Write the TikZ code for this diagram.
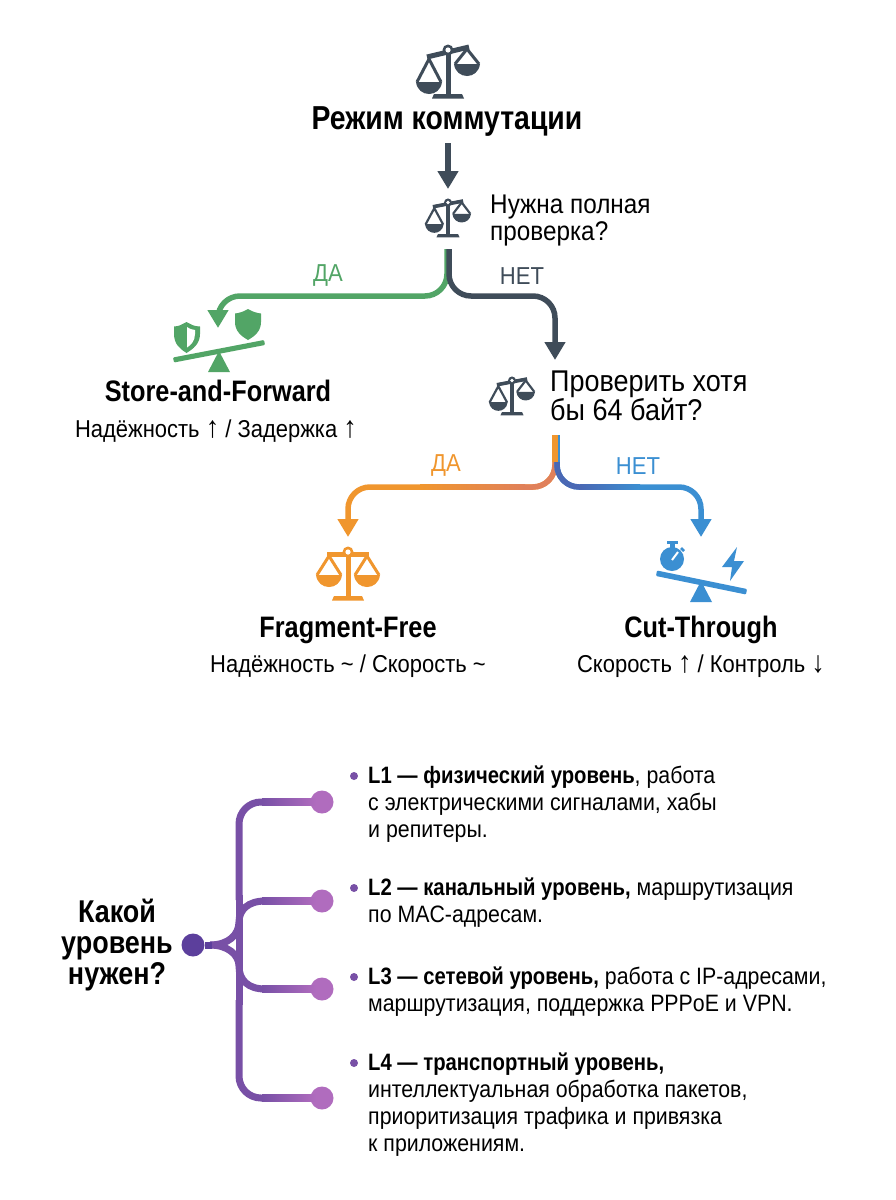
\documentclass[tikz,border=0pt]{standalone}
\usepackage{fontspec}
\setmainfont[FakeStretch=0.9,BoldFeatures={FakeStretch=0.855}]{Liberation Sans}
\usetikzlibrary{arrows.meta,calc}
\definecolor{ink}{HTML}{3F4C59}
\definecolor{grn}{HTML}{52A566}
\definecolor{org}{HTML}{F0962E}
\definecolor{orgred}{HTML}{E0805A}
\definecolor{blu}{HTML}{3B8FD2}
\definecolor{bludk}{HTML}{4A68B4}
\definecolor{pur}{HTML}{7850A6}
\definecolor{purlt}{HTML}{B06CBE}
\definecolor{purdk}{HTML}{5C3F9C}
\newcommand{\fsz}[2]{\fontsize{#1}{#2}\selectfont}
\newcommand{\bigup}{{\fsz{30}{27}↑}}
\newcommand{\bigdn}{{\fsz{30}{27}↓}}
\tikzset{
  x=1pt,y=-1pt,
  conn/.style={line width=5.5pt,rounded corners=22pt,-{Triangle[width=20pt,length=18pt]}},
  curveline/.style={line width=5.5pt,rounded corners=22pt},
  tree/.style={line width=7pt,draw=pur},
  enddot/.style={circle,fill=purlt,minimum size=23pt,inner sep=0pt},
  bul/.style={circle,fill=pur,minimum size=8pt,inner sep=0pt},
  title/.style={font=\fsz{33.2}{36}\bfseries,text=black},
  mode/.style={font=\fsz{29.6}{34}\bfseries,text=black},
  sub/.style={font=\fsz{24.4}{27},text=black},
  ask/.style={anchor=west,align=left,text=black},
  branch/.style={font=\fsz{24.5}{29}},
  item/.style={anchor=north west,align=left,text=black,font=\fsz{23.7}{27},inner sep=0pt},
  pics/balance/.style n args={3}{code={
    \begin{scope}[scale=#3,line width={#3*3pt},draw=#1,fill=#1]
      \draw[line width={#3*5pt}] (-21,{-21+#2}) -- (21,{-21-#2});
      \draw[line width={#3*5pt}] (0,-22) -- (0,22);
      \fill (-16,25.5) -- (-14,21) -- (14,21) -- (16,25.5) -- cycle;
      \draw[line join=round] (-31,{0+1.8*#2}) -- (-19,{-19+#2}) -- (-7,{0+1.8*#2});
      \draw[line join=round] (7,{0-1.8*#2}) -- (19,{-19-#2}) -- (31,{0-1.8*#2});
      \fill (-32,{1.8*#2}) .. controls (-30,{1.8*#2+16}) and (-8,{1.8*#2+16}) .. (-6,{1.8*#2}) -- cycle;
      \fill (6,{-1.8*#2}) .. controls (8,{-1.8*#2+16}) and (30,{-1.8*#2+16}) .. (32,{-1.8*#2}) -- cycle;
      \fill (0,-23) circle[radius=5.5];
      \fill[white] (0,-23) circle[radius=2.6];
    \end{scope}
  }}
}
\begin{document}
\begin{tikzpicture}
\useasboundingbox (0,0) rectangle (896,1200);
\fill[white] (0,0) rectangle (896,1200);

% top part
\pic (bigscale) at (448,73) {balance={ink}{5}{1}};
\node[title] (ttl) at (447,122) {Режим коммутации};
\pic (scale1) at (448,219) {balance={ink}{4}{0.72}};
\node[ask,font=\fsz{27}{27}] (q1) at (486.7,221) {Нужна полная\\проверка?};
\coordinate (a0) at (448,143);
\coordinate (a1) at (448,189);
\draw[conn,draw=ink] (a0) -- (a1);

% first split
\coordinate (s1) at (447,249);
\coordinate (c1l) at (447,296);
\coordinate (t1l) at (218,328);
\coordinate (c1lb) at (218,296);
\coordinate (s1r) at (449,249);
\coordinate (c1r) at (449,296);
\coordinate (c1rb) at (555,296);
\coordinate (t1r) at (555,360);
\draw[conn,draw=grn] (s1) -- (c1l) -- (c1lb) -- (t1l);
\draw[conn,draw=ink] (s1r) -- (c1r) -- (c1rb) -- (t1r);
\node[branch,text=grn] (yes1) at (328,276) {ДА};
\node[branch,text=ink] (no1) at (522,276) {НЕТ};

% store-and-forward icon
\fill[grn,rounded corners=1pt] (173,357.5) -- (264,340) -- (265,345) -- (174,362.5) -- cycle;
\fill[grn] (219,351) -- (230,372) -- (208,372) -- cycle;
\fill[grn] (186.5,322) .. controls (179,326) .. (174,326.5) -- (174,334) .. controls (174,344) and (180,349) .. (186.5,353) .. controls (193,349) and (200,344) .. (200,334) -- (200,326.5) .. controls (194,326) .. cycle;
\fill[white] (187,327) .. controls (190,329) .. (195,330) -- (195,334) .. controls (195,341) and (191,345) .. (187,347.5) -- cycle;
\fill[grn] (248,309) .. controls (243,312) and (239,313) .. (235,313.5) -- (235,322) .. controls (235,331) and (241,336) .. (248,340) .. controls (255,336) and (261,331) .. (261,322) -- (261,313.5) .. controls (257,313) and (253,312) .. cycle;
\node[mode] (sf) at (218,391) {Store-and-Forward};
\node[sub] (sfs) at (216,431) {Надёжность \bigup{} / Задержка \bigup};

% second question
\pic (scale2) at (512,397) {balance={ink}{4}{0.72}};
\node[ask,font=\fsz{30}{26}] (q2) at (546.7,396) {Проверить хотя\\бы 64 байт?};

% second split
\coordinate (s2) at (555,435);
\coordinate (c2l) at (555,487);
\coordinate (c2lb) at (348,487);
\coordinate (t2l) at (348,537);
\coordinate (s2r) at (557,435);
\coordinate (c2r) at (557,487);
\coordinate (c2rb) at (701,487);
\coordinate (t2r) at (701,537);
\draw[conn,draw=org] (s2) -- (c2l) -- (c2lb) -- (t2l);
\shade[left color=org,right color=orgred] (420,484.25) rectangle (525,489.75);
\draw[curveline,draw=orgred] (555,462) -- (c2l) -- (524,487);
\draw[conn,draw=blu] (s2r) -- (c2r) -- (c2rb) -- (t2r);
\shade[left color=bludk,right color=blu] (580,484.25) rectangle (640,489.75);
\draw[curveline,draw=bludk] (557,462) -- (c2r) -- (581,487);
\draw[line width=5.5pt,draw=org] (555,435) -- (555,462);
\draw[line width=2pt,draw=blu] (558.5,435) -- (558.5,460);
\node[branch,text=org] (yes2) at (446,466) {ДА};
\node[branch,text=blu] (no2) at (638,466) {НЕТ};

% fragment-free
\pic (scale3) at (348,575) {balance={org}{0}{1}};
\node[mode] (ff) at (348,630) {Fragment-Free};
\node[sub] (ffs) at (348,666) {Надёжность \textasciitilde{} / Скорость \textasciitilde};

% cut-through icon
\fill[blu,rounded corners=1pt] (657,570.5) -- (747,589) -- (746,594.5) -- (656,576) -- cycle;
\fill[blu] (701,581) -- (712,602) -- (690,602) -- cycle;
\fill[blu] (672,559) circle[radius=12];
\fill[blu] (669.5,542) rectangle (675,548);
\fill[blu] (667,541) rectangle (677.5,544);
\draw[blu,line width=2.5pt] (681,548) -- (684,551);
\draw[white,line width=2pt] (672,560) -- (678,552);
\fill[blu] (737,547) -- (722,567) -- (732,567) -- (730,581) -- (744,561) -- (734,561) -- cycle;
\node[mode] (ct) at (701,630) {Cut-Through};
\node[sub] (cts) at (701,666) {Скорость \bigup{} / Контроль \bigdn};

% lower tree
\node[font=\fsz{31.5}{31}\bfseries,align=center,text=black] (lvl) at (117,945) {Какой\\уровень\\нужен?};
\coordinate (trk1) at (239,802);
\coordinate (trk4) at (239,1098);
\coordinate (root) at (212,945);
\node[enddot] (d1) at (322,802) {};
\node[enddot] (d2) at (322,901) {};
\node[enddot] (d3) at (322,989) {};
\node[enddot] (d4) at (322,1098) {};
\draw[tree,rounded corners=22pt] (239,900) -- (trk1) -- (270,802);
\draw[tree,rounded corners=22pt] (239,1000) -- (trk4) -- (270,1098);
\draw[tree] (239,895) -- (239,1005);
\draw[tree] (210,945) .. controls (228,945) and (239,935) .. (239,922) .. controls (239,910) and (248,901) .. (265,901);
\draw[tree] (210,945) .. controls (228,945) and (239,955) .. (239,966) .. controls (239,980) and (248,989) .. (265,989);
\foreach \yy in {802,901,989,1098}{
  \shade[left color=pur,right color=purlt] (262,\yy-3.5) rectangle (316,\yy+3.5);
}
\node[circle,fill=purdk,minimum size=23pt,inner sep=0pt] (rootdot) at (193,945) {};
\draw[tree,draw=purdk] (rootdot) -- (root);

\node[bul] (b1) at (354,776) {};
\node[bul] (b2) at (354,888) {};
\node[bul] (b3) at (354,977) {};
\node[bul] (b4) at (354,1063) {};
\node[item] (t1) at (368,766) {\textbf{L1 — физический уровень}, работа\\с электрическими сигналами, хабы\\и репитеры.};
\node[item] (t2) at (368,878) {\textbf{L2 — канальный уровень,} маршрутизация\\по MAC-адресам.};
\node[item] (t3) at (368,967) {\textbf{L3 — сетевой уровень,} работа с IP-адресами,\\маршрутизация, поддержка PPPoE и VPN.};
\node[item] (t4) at (368,1053) {\textbf{L4 — транспортный уровень,}\\интеллектуальная обработка пакетов,\\приоритизация трафика и привязка\\к приложениям.};
\end{tikzpicture}
\end{document}
